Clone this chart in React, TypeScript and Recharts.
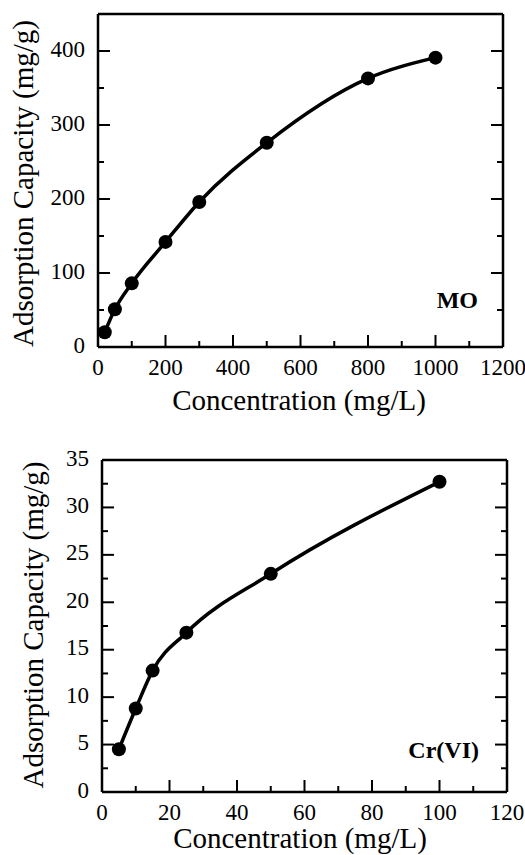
import React from 'react';
import { ComposedChart, Line, XAxis, YAxis, Label } from 'recharts';

// Methyl orange (MO) isotherm
const moConcentration = [20, 50, 100, 200, 300, 500, 800, 1000];
const moCapacity = [20, 51, 86, 142, 196, 276, 363, 391];

// Cr(VI) isotherm
const crConcentration = [5, 10, 15, 25, 50, 100];
const crCapacity = [4.5, 8.8, 12.8, 16.8, 23.0, 32.7];

// Axis ticks (all tick marks) and the labelled major ticks
const moXTicks = [0, 100, 200, 300, 400, 500, 600, 700, 800, 900, 1000, 1100, 1200];
const moXMajor = [0, 200, 400, 600, 800, 1000, 1200];
const moYTicks = [0, 50, 100, 150, 200, 250, 300, 350, 400, 450];
const moYMajor = [0, 100, 200, 300, 400];

const crXTicks = [0, 10, 20, 30, 40, 50, 60, 70, 80, 90, 100, 110, 120];
const crXMajor = [0, 20, 40, 60, 80, 100, 120];
const crYTicks = [0, 2.5, 5, 7.5, 10, 12.5, 15, 17.5, 20, 22.5, 25, 27.5, 30, 32.5, 35];
const crYMajor = [0, 5, 10, 15, 20, 25, 30, 35];

const xTitle = 'Concentration (mg/L)';
const yTitle = 'Adsorption Capacity (mg/g)';

const FONT = '"Liberation Serif", "Times New Roman", serif';
const INK = '#000';
const MAJOR_LEN = 12;
const MINOR_LEN = 6;
const AXIS_LINE = { stroke: INK, strokeWidth: 2.5 };

type Side = 'bottom' | 'top' | 'left' | 'right';

// Inward-pointing tick marks on every side of the frame; labels only on bottom/left majors.
function makeTick(side: Side, major: number[], labelled: boolean) {
  return (props: any) => {
    const { x, y, payload } = props;
    const v = payload.value;
    const isMajor = major.includes(v);
    const len = isMajor ? MAJOR_LEN : MINOR_LEN;
    let line;
    if (side === 'bottom') line = <line x1={x} x2={x} y1={y} y2={y - len} />;
    else if (side === 'top') line = <line x1={x} x2={x} y1={y} y2={y + len} />;
    else if (side === 'left') line = <line x1={x} x2={x + len} y1={y} y2={y} />;
    else line = <line x1={x} x2={x - len} y1={y} y2={y} />;
    let label = null;
    if (labelled && isMajor) {
      if (side === 'bottom') {
        label = (
          <text x={x} y={y + 28} textAnchor="middle" fill={INK} stroke="none" fontSize={23} fontFamily={FONT}>
            {v}
          </text>
        );
      } else if (side === 'left') {
        label = (
          <text x={x - 13} y={y + 5.5} textAnchor="end" fill={INK} stroke="none" fontSize={23} fontFamily={FONT}>
            {v}
          </text>
        );
      }
    }
    return (
      <g stroke={INK} strokeWidth={2}>
        {line}
        {label}
      </g>
    );
  };
}

function xTitleContent(text: string, dx: number, below: number) {
  return (props: any) => {
    const vb = props.viewBox || {};
    return (
      <text
        x={vb.x + vb.width / 2 + dx}
        y={vb.y + below}
        textAnchor="middle"
        fill={INK}
        fontSize={29}
        fontFamily={FONT}
      >
        {text}
      </text>
    );
  };
}

function yTitleContent(text: string, baseX: number, dy: number) {
  return (props: any) => {
    const vb = props.viewBox || {};
    const cx = vb.x + baseX;
    const cy = vb.y + vb.height / 2 + dy;
    return (
      <text
        x={cx}
        y={cy}
        transform={`rotate(-90 ${cx} ${cy})`}
        textAnchor="middle"
        fill={INK}
        fontSize={29}
        fontFamily={FONT}
      >
        {text}
      </text>
    );
  };
}

function tagContent(text: string, fromRight: number, above: number) {
  return (props: any) => {
    const vb = props.viewBox || {};
    return (
      <text
        x={vb.x + vb.width - fromRight}
        y={vb.y - above}
        textAnchor="end"
        fill={INK}
        fontSize={24}
        fontWeight="bold"
        fontFamily={FONT}
      >
        {text}
      </text>
    );
  };
}

interface PanelProps {
  data: { x: number; y: number }[];
  xDomain: [number, number];
  yDomain: [number, number];
  xTicks: number[];
  xMajor: number[];
  yTicks: number[];
  yMajor: number[];
  width: number;
  height: number;
  margin: { top: number; right: number; bottom: number; left: number };
  yAxisWidth: number;
  yTitleX: number;
  yTitleDy: number;
  xTitleDx: number;
  xTitleBelow: number;
  tag: string;
  tagRight: number;
  tagAbove: number;
}

function Panel(p: PanelProps) {
  return (
    <ComposedChart width={p.width} height={p.height} data={p.data} margin={p.margin}>
      <XAxis
        dataKey="x"
        type="number"
        domain={p.xDomain}
        ticks={p.xTicks}
        interval={0}
        allowDataOverflow
        height={60}
        tickSize={0}
        tickMargin={0}
        axisLine={AXIS_LINE}
        tickLine={false}
        tick={makeTick('bottom', p.xMajor, true)}
        label={xTitleContent(xTitle, p.xTitleDx, p.xTitleBelow)}
      >
        <Label content={tagContent(p.tag, p.tagRight, p.tagAbove)} />
      </XAxis>
      <XAxis
        xAxisId="top"
        orientation="top"
        type="number"
        domain={p.xDomain}
        ticks={p.xTicks}
        interval={0}
        allowDataOverflow
        height={1}
        tickSize={0}
        tickMargin={0}
        axisLine={AXIS_LINE}
        tickLine={false}
        tick={makeTick('top', p.xMajor, false)}
      />
      <YAxis
        type="number"
        domain={p.yDomain}
        ticks={p.yTicks}
        interval={0}
        allowDataOverflow
        width={p.yAxisWidth}
        tickSize={0}
        tickMargin={0}
        axisLine={AXIS_LINE}
        tickLine={false}
        tick={makeTick('left', p.yMajor, true)}
        label={yTitleContent(yTitle, p.yTitleX, p.yTitleDy)}
      />
      <YAxis
        yAxisId="right"
        orientation="right"
        type="number"
        domain={p.yDomain}
        ticks={p.yTicks}
        interval={0}
        allowDataOverflow
        width={1}
        tickSize={0}
        tickMargin={0}
        axisLine={AXIS_LINE}
        tickLine={false}
        tick={makeTick('right', p.yMajor, false)}
      />
      <Line
        type="monotone"
        dataKey="y"
        stroke={INK}
        strokeWidth={3.5}
        dot={{ r: 7, fill: INK, stroke: INK, strokeWidth: 0 }}
        activeDot={false}
        isAnimationActive={false}
      />
    </ComposedChart>
  );
}

export default function App() {
  const moData = moConcentration.map((x, i) => ({ x, y: moCapacity[i] }));
  const crData = crConcentration.map((x, i) => ({ x, y: crCapacity[i] }));
  return (
    <div style={{ position: 'absolute', left: 0, top: 0, width: 525, height: 855, background: '#fff', overflow: 'hidden' }}>
      <div style={{ position: 'absolute', left: 0, top: 0 }}>
        <Panel
          data={moData}
          xDomain={[0, 1200]}
          yDomain={[0, 450]}
          xTicks={moXTicks}
          xMajor={moXMajor}
          yTicks={moYTicks}
          yMajor={moYMajor}
          width={525}
          height={420}
          margin={{ top: 13, right: 21, bottom: 13, left: 0 }}
          yAxisWidth={98}
          yTitleX={33}
          yTitleDy={3}
          xTitleDx={-1.5}
          xTitleBelow={63}
          tag="MO"
          tagRight={25}
          tagAbove={39}
        />
      </div>
      <div style={{ position: 'absolute', left: 0, top: 430 }}>
        <Panel
          data={crData}
          xDomain={[0, 120]}
          yDomain={[0, 35]}
          xTicks={crXTicks}
          xMajor={crXMajor}
          yTicks={crYTicks}
          yMajor={crYMajor}
          width={525}
          height={425}
          margin={{ top: 29, right: 17, bottom: 3, left: 0 }}
          yAxisWidth={102}
          yTitleX={43}
          yTitleDy={-1}
          xTitleDx={-4.5}
          xTitleBelow={56}
          tag="Cr(VI)"
          tagRight={28}
          tagAbove={34}
        />
      </div>
    </div>
  );
}
